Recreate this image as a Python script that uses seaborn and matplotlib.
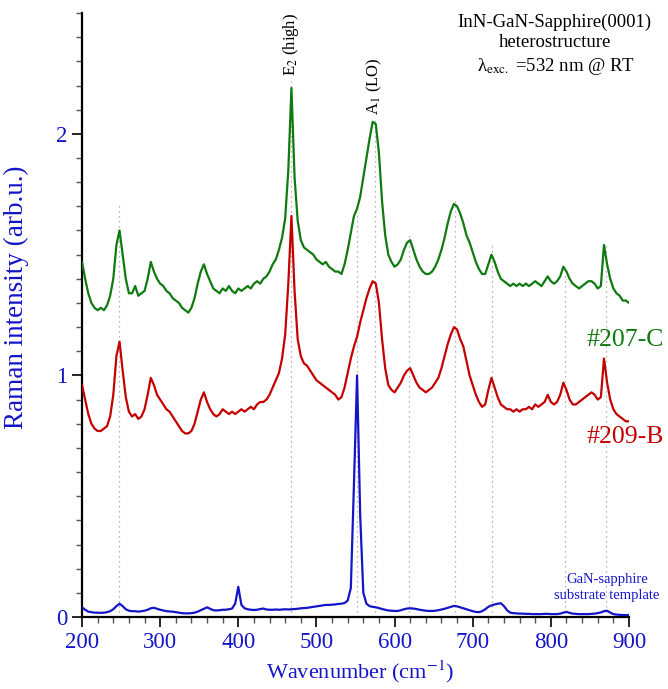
import numpy as np
import pandas as pd
import matplotlib
matplotlib.use("Agg")
import matplotlib.pyplot as plt
from matplotlib.ticker import MultipleLocator
import seaborn as sns

# ---- data ----
wavenumber = np.arange(200, 901, 4)

green_207C = [
    1.47, 1.40, 1.34, 1.30, 1.28, 1.27, 1.28, 1.27, 1.29, 1.33,
    1.40, 1.54, 1.60, 1.50, 1.40, 1.34, 1.34, 1.37, 1.33, 1.34,
    1.35, 1.40, 1.47, 1.43, 1.40, 1.38, 1.37, 1.35, 1.34, 1.32,
    1.31, 1.30, 1.28, 1.27, 1.26, 1.28, 1.32, 1.38, 1.43, 1.46,
    1.42, 1.39, 1.36, 1.35, 1.34, 1.36, 1.35, 1.37, 1.35, 1.34,
    1.36, 1.35, 1.36, 1.37, 1.36, 1.38, 1.39, 1.38, 1.40, 1.41,
    1.43, 1.46, 1.48, 1.52, 1.57, 1.65, 1.85, 2.19, 1.82, 1.64,
    1.56, 1.53, 1.52, 1.51, 1.50, 1.48, 1.47, 1.46, 1.47, 1.45,
    1.44, 1.43, 1.43, 1.42, 1.46, 1.52, 1.59, 1.66, 1.69, 1.74,
    1.82, 1.90, 1.98, 2.05, 2.04, 1.92, 1.72, 1.58, 1.50, 1.47,
    1.45, 1.46, 1.48, 1.52, 1.55, 1.56, 1.52, 1.48, 1.45, 1.43,
    1.42, 1.42, 1.43, 1.45, 1.48, 1.52, 1.57, 1.63, 1.68, 1.71,
    1.70, 1.67, 1.63, 1.58, 1.55, 1.51, 1.47, 1.44, 1.42, 1.42,
    1.46, 1.50, 1.47, 1.43, 1.40, 1.39, 1.38, 1.37, 1.38, 1.37,
    1.38, 1.37, 1.38, 1.37, 1.38, 1.39, 1.38, 1.37, 1.39, 1.41,
    1.39, 1.38, 1.39, 1.41, 1.45, 1.43, 1.40, 1.38, 1.37, 1.36,
    1.37, 1.38, 1.39, 1.39, 1.38, 1.36, 1.37, 1.54, 1.46, 1.40,
    1.36, 1.34, 1.33, 1.31, 1.31, 1.30,
]

red_209B = [
    0.96, 0.90, 0.84, 0.80, 0.78, 0.77, 0.77, 0.78, 0.79, 0.83,
    0.92, 1.08, 1.14, 1.02, 0.91, 0.85, 0.83, 0.84, 0.82, 0.83,
    0.86, 0.92, 0.99, 0.96, 0.92, 0.90, 0.88, 0.86, 0.85, 0.83,
    0.81, 0.79, 0.77, 0.76, 0.76, 0.77, 0.80, 0.85, 0.90, 0.93,
    0.89, 0.86, 0.84, 0.83, 0.84, 0.86, 0.85, 0.84, 0.85, 0.84,
    0.85, 0.86, 0.85, 0.86, 0.87, 0.86, 0.88, 0.89, 0.89, 0.90,
    0.92, 0.95, 0.98, 1.01, 1.07, 1.17, 1.38, 1.66, 1.35, 1.15,
    1.08, 1.05, 1.04, 1.02, 1.00, 0.98, 0.97, 0.96, 0.95, 0.94,
    0.93, 0.92, 0.90, 0.91, 0.95, 1.01, 1.07, 1.12, 1.16, 1.22,
    1.27, 1.32, 1.36, 1.39, 1.38, 1.30, 1.15, 1.03, 0.96, 0.94,
    0.93, 0.95, 0.97, 1.00, 1.02, 1.03, 1.00, 0.97, 0.95, 0.94,
    0.93, 0.94, 0.95, 0.97, 0.99, 1.03, 1.08, 1.13, 1.17, 1.20,
    1.19, 1.15, 1.12, 1.06, 1.00, 0.96, 0.92, 0.89, 0.87, 0.88,
    0.94, 0.99, 0.95, 0.91, 0.88, 0.87, 0.86, 0.86, 0.85, 0.86,
    0.85, 0.86, 0.86, 0.87, 0.86, 0.88, 0.87, 0.88, 0.89, 0.92,
    0.89, 0.88, 0.89, 0.92, 0.97, 0.94, 0.90, 0.88, 0.88, 0.89,
    0.90, 0.91, 0.92, 0.93, 0.92, 0.90, 0.91, 1.07, 0.97, 0.90,
    0.86, 0.84, 0.83, 0.82, 0.81, 0.81,
]

blue_template = [
    0.040, 0.030, 0.022, 0.020, 0.018, 0.018, 0.017, 0.018, 0.020, 0.024,
    0.032, 0.045, 0.055, 0.045, 0.032, 0.026, 0.024, 0.024, 0.022, 0.024,
    0.026, 0.030, 0.036, 0.038, 0.034, 0.030, 0.027, 0.024, 0.023, 0.022,
    0.020, 0.018, 0.016, 0.015, 0.015, 0.016, 0.018, 0.022, 0.028, 0.034,
    0.040, 0.034, 0.028, 0.027, 0.028, 0.030, 0.030, 0.032, 0.035, 0.055,
    0.125, 0.050, 0.036, 0.032, 0.030, 0.029, 0.030, 0.033, 0.035, 0.031,
    0.030, 0.030, 0.031, 0.030, 0.031, 0.032, 0.031, 0.032, 0.033, 0.034,
    0.036, 0.037, 0.038, 0.040, 0.042, 0.044, 0.046, 0.048, 0.050, 0.050,
    0.051, 0.052, 0.054, 0.055, 0.058, 0.068, 0.120, 0.550, 1.000, 0.420,
    0.100, 0.055, 0.045, 0.042, 0.040, 0.037, 0.033, 0.030, 0.027, 0.026,
    0.025, 0.025, 0.028, 0.032, 0.035, 0.036, 0.035, 0.033, 0.030, 0.028,
    0.026, 0.025, 0.025, 0.026, 0.028, 0.031, 0.034, 0.038, 0.042, 0.046,
    0.044, 0.040, 0.036, 0.032, 0.028, 0.024, 0.021, 0.020, 0.024, 0.032,
    0.042, 0.048, 0.052, 0.055, 0.057, 0.045, 0.028, 0.018, 0.016, 0.015,
    0.014, 0.014, 0.013, 0.013, 0.012, 0.012, 0.012, 0.012, 0.013, 0.013,
    0.012, 0.012, 0.012, 0.014, 0.018, 0.021, 0.017, 0.014, 0.013, 0.012,
    0.012, 0.012, 0.012, 0.013, 0.014, 0.016, 0.019, 0.024, 0.026, 0.018,
    0.012, 0.010, 0.009, 0.008, 0.008, 0.008,
]

# mode positions (cm^-1) and top of their dotted guide lines
mode_positions = [247, 467, 552, 575, 619, 677, 725, 818, 870]
mode_line_tops = [1.72, 2.22, 1.67, 2.07, 1.58, 1.74, 1.54, 1.42, 1.55]

x_ticks = [200, 300, 400, 500, 600, 700, 800, 900]
y_ticks = [0, 1, 2]

assert len(wavenumber) == len(green_207C) == len(red_209B) == len(blue_template)

df = pd.DataFrame({
    "wavenumber": np.concatenate([wavenumber] * 3),
    "intensity": np.concatenate([green_207C, red_209B, blue_template]),
    "sample": ["#207-C"] * len(wavenumber) + ["#209-B"] * len(wavenumber)
              + ["template"] * len(wavenumber),
})

# ---- style ----
sns.set_style("ticks")
plt.rcParams["font.family"] = ["Liberation Serif", "DejaVu Serif"]
plt.rcParams["mathtext.fontset"] = "stix"

GREEN = "#0f7a0f"
RED = "#c40000"
BLUE = "#1414c8"

fig = plt.figure(figsize=(6.68, 6.89), dpi=100)
ax = fig.add_axes([0.1228, 0.1045, 0.8188, 0.8765])

for xm, top in zip(mode_positions, mode_line_tops):
    ax.plot([xm, xm], [0, top], color="#9a9a9a", lw=0.9,
            linestyle=(0, (1, 3)), zorder=1)

sns.lineplot(data=df, x="wavenumber", y="intensity", hue="sample",
             palette={"#207-C": GREEN, "#209-B": RED, "template": BLUE},
             linewidth=1.6, legend=False, ax=ax, zorder=3)

ax.set_xlim(200, 900)
ax.set_ylim(0, 2.5)
ax.set_xticks(x_ticks)
ax.set_yticks(y_ticks)
ax.xaxis.set_minor_locator(MultipleLocator(20))
ax.yaxis.set_minor_locator(MultipleLocator(0.1))
ax.tick_params(axis="both", which="major", labelsize=16.5, labelcolor=BLUE,
               color="black", direction="out", length=7, width=1.2)
ax.tick_params(axis="both", which="minor", direction="out", length=4,
               width=1.0, color="#555555")
for s in ["top", "right"]:
    ax.spines[s].set_visible(False)
for s in ["left", "bottom"]:
    ax.spines[s].set_linewidth(1.6)
    ax.spines[s].set_color("black")

ax.set_xlabel("Wavenumber (cm$^{-1}$)", fontsize=16, color=BLUE)
ax.set_ylabel("Raman intensity (arb.u.)", fontsize=19.5, color=BLUE)
ax.xaxis.set_label_coords(0.508, -0.068)
ax.yaxis.set_label_coords(-0.097, 0.53)

# annotations
ax.text(467, 2.24, r"E$_{\rm 2}$ (high)", rotation=90, ha="center",
        va="bottom", fontsize=12, color="black")
ax.text(574, 2.08, r"A$_{\rm 1}$ (LO)", rotation=90, ha="center",
        va="bottom", fontsize=12, color="black")

ax.text(805, 2.462, "InN-GaN-Sapphire(0001)", ha="center", va="center",
        fontsize=13.5, color="black")
ax.text(805, 2.380, "heterostructure", ha="center", va="center",
        fontsize=13.5, color="black")
ax.text(807, 2.28, r"λ$_{\rm exc.}$ =532 nm @ RT", ha="center",
        va="center", fontsize=13.5, color="black")

ax.text(945, 1.145, "#207-C", ha="right", va="center", fontsize=18.5,
        color=GREEN, clip_on=False)
ax.text(945, 0.744, "#209-B", ha="right", va="center", fontsize=18.5,
        color=RED, clip_on=False)
ax.text(872, 0.157, "GaN-sapphire", ha="center", va="center", fontsize=10.5,
        color=BLUE)
ax.text(872, 0.091, "substrate template", ha="center", va="center",
        fontsize=10.5, color=BLUE)

fig.savefig("out.png", dpi=100)
